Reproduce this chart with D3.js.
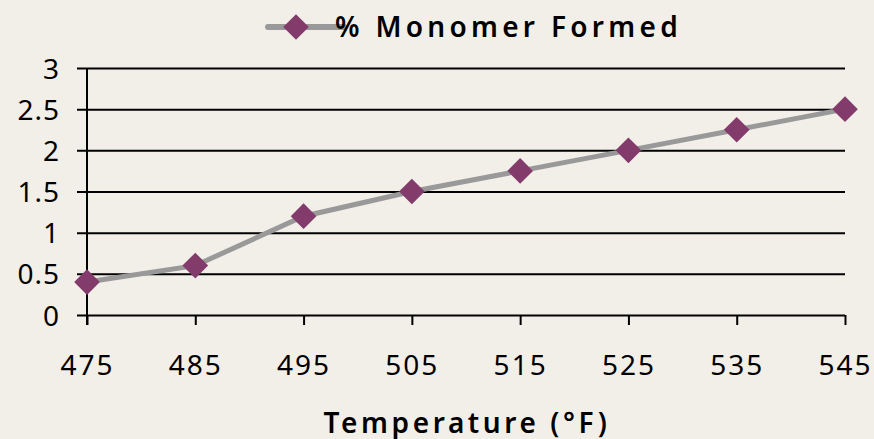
<!DOCTYPE html>
<html>
<head>
<meta charset="utf-8">
<script src="https://cdn.jsdelivr.net/npm/d3@7"></script>
<style>
  body { margin: 0; background: #f2efe9; }
  svg { display: block; }
  text { font-family: "Noto Sans", "Open Sans", sans-serif; fill: #000; }
</style>
</head>
<body>
<svg id="chart"></svg>
<script>
var WIDTH = 874;
var HEIGHT = 439;

// temperatures (°F) along the x axis
var temps = [475, 485, 495, 505, 515, 525, 535, 545];
// % monomer formed at each temperature
var monomer = [0.4, 0.6, 1.2, 1.5, 1.75, 2.0, 2.25, 2.5];
var yTicks = [0, 0.5, 1, 1.5, 2, 2.5, 3];
var seriesName = "% Monomer Formed";
var xTitle = "Temperature (°F)";

var plotLeft = 87, plotRight = 845, plotTop = 68, plotBottom = 315;

var svg = d3.select("#chart")
    .attr("width", WIDTH)
    .attr("height", HEIGHT);

svg.append("rect").attr("width", WIDTH).attr("height", HEIGHT).attr("fill", "#f2efe9");

var x = d3.scalePoint().domain(temps).range([plotLeft, plotRight]);
var y = d3.scaleLinear().domain([0, 3]).range([plotBottom, plotTop]);

//horizontal gridlines with small tick stubs to the left
svg.append("g")
    .attr("transform", "translate(" + plotLeft + ",0)")
    .call(d3.axisLeft(y).tickValues(yTicks).tickSize(-(plotRight - plotLeft)).tickPadding(27).tickFormat(d3.format("")))
    .call(function(g) {
        g.select(".domain").remove();
        g.selectAll(".tick line").attr("x1", -10).attr("stroke", "#000").attr("stroke-width", 2);
        g.selectAll(".tick text").attr("font-size", 28).attr("letter-spacing", 1).attr("dy", "0.36em");
    });

//vertical axis line
svg.append("line")
    .attr("x1", plotLeft).attr("x2", plotLeft)
    .attr("y1", plotTop).attr("y2", plotBottom + 10)
    .attr("stroke", "#000").attr("stroke-width", 2);

//x axis
svg.append("g")
    .attr("transform", "translate(0," + plotBottom + ")")
    .call(d3.axisBottom(x).tickSize(10).tickPadding(30))
    .call(function(g) {
        g.select(".domain").remove();
        g.selectAll(".tick line").attr("stroke", "#000").attr("stroke-width", 2);
        g.selectAll(".tick text").attr("font-size", 28).attr("letter-spacing", 2).attr("dy", "0.71em");
    });

//data line
var pts = temps.map(function(t, i) { return [x(t), y(monomer[i])]; });
svg.append("path")
    .attr("d", d3.line()(pts))
    .attr("fill", "none")
    .attr("stroke", "#999999")
    .attr("stroke-width", 5);

var diamond = d3.symbol().type(d3.symbolDiamond2).size(420);
svg.selectAll(".mk")
    .data(pts)
    .enter()
    .append("path")
    .attr("class", "mk")
    .attr("transform", function(d) { return "translate(" + d[0] + "," + d[1] + ")"; })
    .attr("d", diamond)
    .attr("fill", "#833b6c");

//legend
var lg = svg.append("g").attr("transform", "translate(265,27)");
lg.append("line").attr("x1", 3).attr("x2", 79).attr("y1", 0).attr("y2", 0)
    .attr("stroke", "#999999").attr("stroke-width", 6).attr("stroke-linecap", "round");
lg.append("path").attr("transform", "translate(31,0)").attr("d", diamond).attr("fill", "#833b6c");
lg.append("text").attr("x", 70).attr("y", 0).attr("dy", "0.36em")
    .attr("font-size", 28).attr("font-weight", 600).attr("letter-spacing", 4.3)
    .text(seriesName);

//x title
svg.append("text")
    .attr("x", (plotLeft + plotRight) / 2 + 1).attr("y", 433)
    .attr("text-anchor", "middle")
    .attr("font-size", 28).attr("font-weight", 600).attr("letter-spacing", 3.6)
    .text(xTitle);
</script>
</body>
</html>
